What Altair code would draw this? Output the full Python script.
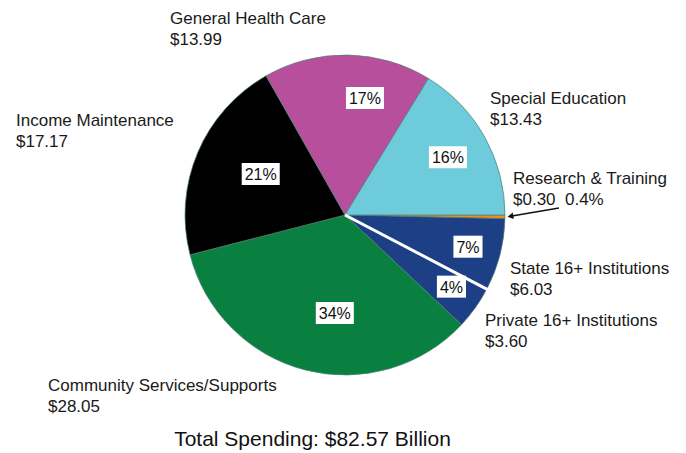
import math
import altair as alt
import pandas as pd

# ---- data (clockwise from 3 o'clock) ----
categories = ["Research & Training", "State 16+ Institutions", "Private 16+ Institutions",
              "Community Services/Supports", "Income Maintenance", "General Health Care",
              "Special Education"]
values = [0.30, 6.03, 3.60, 28.05, 17.17, 13.99, 13.43]
value_labels = ["$0.30", "$6.03", "$3.60", "$28.05", "$17.17", "$13.99", "$13.43"]
pct_labels = ["0.4%", "7%", "4%", "34%", "21%", "17%", "16%"]
colors = ["#f28c1e", "#1d3f86", "#1d3f86", "#0a8040", "#000000", "#b84f9c", "#6dcbdb"]
title_text = "Total Spending: $82.57 Billion"

# ---- layout ----
W, H = 670, 445
CX, CY, R = 337, 207, 160
START = math.pi / 2
FONT = "Liberation Sans"
LABEL_SIZE = 17
PCT_SIZE = 16
# callout anchors (left x, line1 baseline, line2 baseline)
callout_pos = {
    "General Health Care": (162, 16, 37),
    "Special Education": (482, 96, 117),
    "Income Maintenance": (8, 118, 139),
    "Research & Training": (505, 176, 197),
    "State 16+ Institutions": (502, 266, 287),
    "Private 16+ Institutions": (477, 318, 339),
    "Community Services/Supports": (40, 383, 404),
}
# small nudges of the in-slice percent boxes
pct_nudge = {"General Health Care": (18, 1), "Community Services/Supports": (14, 4),
             "Income Maintenance": (5, -3), "Private 16+ Institutions": (3, -2)}
arrow_tail = (551, 200)

total = sum(values)
cum = []
acc = 0.0
for v in values:
    cum.append(acc)
    acc += v


def angle_of(v):
    return START + 2 * math.pi * v / total


def polar(a, r):
    return CX + r * math.sin(a), CY - r * math.cos(a)


def text_w(s, size):
    w = 0
    for ch in s:
        w += 0.889 if ch == "%" else 0.556
    return w * size


pie_df = pd.DataFrame({"cat": categories, "value": values, "ord": list(range(len(values)))})

# percent labels
rows = []
for c, v, s, p in zip(categories, values, cum, pct_labels):
    frac = v / total
    if frac < 0.01:
        continue
    r = 127 if frac < 0.10 else (118 if frac < 0.20 else 97)
    x, y = polar(angle_of(s + v / 2), r)
    ndx, ndy = pct_nudge.get(c, (0, 0))
    x += ndx
    y += ndy
    bw = text_w(p, PCT_SIZE) + 6
    rows.append({"x": x, "y": y, "t": p, "x1": x - bw / 2, "x2": x + bw / 2,
                 "y1": y - 11, "y2": y + 11})
pct_df = pd.DataFrame(rows)

# callouts
crow = []
for c, vl, p in zip(categories, value_labels, pct_labels):
    x, y1, y2 = callout_pos[c]
    crow.append({"x": x, "y": y1, "t": c})
    line2 = vl + "\u00a0\u00a0" + p if c == "Research & Training" else vl
    crow.append({"x": x, "y": y2, "t": line2})
call_df = pd.DataFrame(crow)

# white separator between State and Private
sep_a = angle_of(cum[2])
sx, sy = polar(sep_a, R + 1)
sep_df = pd.DataFrame({"x": [CX], "y": [CY], "x2": [sx], "y2": [sy]})

# arrow to Research slice
hx, hy = polar(angle_of(cum[0] + values[0] / 2), R + 2)
dx, dy = hx - arrow_tail[0], hy - arrow_tail[1]
L = math.hypot(dx, dy)
ux, uy = dx / L, dy / L
px, py = hx - ux * 3.5, hy - uy * 3.5
arrow_angle = math.degrees(math.atan2(dx, -dy)) % 360
arrow_df = pd.DataFrame({"x": [arrow_tail[0]], "y": [arrow_tail[1]], "x2": [px], "y2": [py]})
head_df = pd.DataFrame({"x": [px], "y": [py]})

title_df = pd.DataFrame({"x": [304.5], "y": [438], "t": [title_text]})

xs = alt.Scale(domain=[0, W])
ys = alt.Scale(domain=[0, H], reverse=True)

pie = alt.Chart(pie_df).mark_arc(radius=R, stroke="#4d7f76", strokeWidth=0.7).encode(
    theta=alt.Theta("value:Q", stack=True,
                    scale=alt.Scale(range=[START, START + 2 * math.pi])),
    order=alt.Order("ord:Q"),
    color=alt.Color("cat:N", scale=alt.Scale(domain=categories, range=colors), legend=None),
    x=alt.value(CX), y=alt.value(CY),
)

sep = alt.Chart(sep_df).mark_rule(color="white", strokeWidth=3).encode(
    x=alt.X("x:Q", scale=xs, axis=None), y=alt.Y("y:Q", scale=ys, axis=None),
    x2="x2:Q", y2="y2:Q",
)

boxes = alt.Chart(pct_df).mark_rect(color="white").encode(
    x=alt.X("x1:Q", scale=xs, axis=None), x2="x2:Q",
    y=alt.Y("y1:Q", scale=ys, axis=None), y2="y2:Q",
)

pct_text = alt.Chart(pct_df).mark_text(font=FONT, fontSize=PCT_SIZE, color="#111",
                                       align="center", baseline="middle", dy=1).encode(
    x=alt.X("x:Q", scale=xs, axis=None), y=alt.Y("y:Q", scale=ys, axis=None), text="t:N",
)

callouts = alt.Chart(call_df).mark_text(font=FONT, fontSize=LABEL_SIZE, color="#1a1a1a",
                                        align="left", baseline="alphabetic").encode(
    x=alt.X("x:Q", scale=xs, axis=None), y=alt.Y("y:Q", scale=ys, axis=None), text="t:N",
)

arrow = alt.Chart(arrow_df).mark_rule(color="#111", strokeWidth=1.3).encode(
    x=alt.X("x:Q", scale=xs, axis=None), y=alt.Y("y:Q", scale=ys, axis=None),
    x2="x2:Q", y2="y2:Q",
)
head = alt.Chart(head_df).mark_point(shape="triangle-up", filled=True, color="#111",
                                     size=45, opacity=1, angle=arrow_angle).encode(
    x=alt.X("x:Q", scale=xs, axis=None), y=alt.Y("y:Q", scale=ys, axis=None),
)

title = alt.Chart(title_df).mark_text(font=FONT, fontSize=21, color="#111",
                                      align="center", baseline="alphabetic").encode(
    x=alt.X("x:Q", scale=xs, axis=None), y=alt.Y("y:Q", scale=ys, axis=None), text="t:N",
)

chart = alt.layer(pie, sep, boxes, pct_text, callouts, arrow, head, title).properties(
    width=W, height=H, padding=0, autosize=alt.AutoSizeParams(type="none"),
    background="white",
).configure_view(stroke=None)

chart.save("out.html", embed_options={"renderer": "svg", "actions": False})
